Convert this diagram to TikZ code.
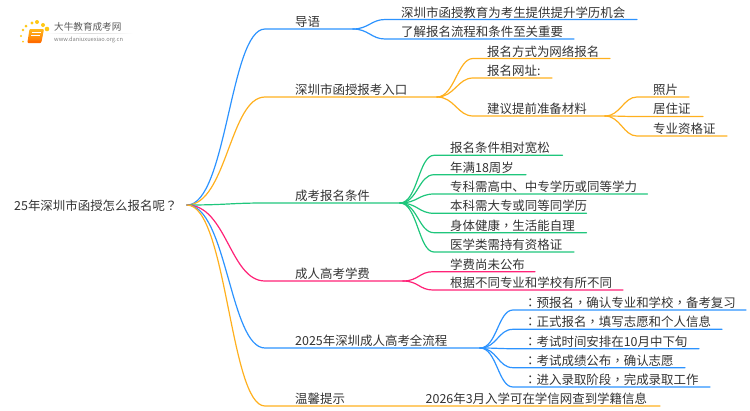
\documentclass[tikz,border=0pt]{standalone}
\usepackage{fontspec}
\setmainfont{Noto Sans CJK SC}
\newfontfamily\punct{Noto Sans CJK TC}
\usetikzlibrary{calc}
\definecolor{cblue}{HTML}{2C93FF}
\definecolor{corange}{HTML}{FFB01E}
\definecolor{cgreen}{HTML}{1FC67C}
\definecolor{cpink}{HTML}{FF2277}
\definecolor{ctext}{HTML}{333333}
\tikzset{
  txt/.style={font=\fontsize{12.45}{14}\selectfont,text=ctext,inner sep=0pt,anchor=base west},
  lead/.style={line width=1.2pt,line cap=round},
}
\newcommand{\pc}{{\punct ，}}
\newcommand{\pq}{{\punct ？}}
\newcommand{\pk}{{\punct ：}}
% \bra{colour}{from}{bend end}{line end}{bend span}
\newcommand{\bra}[5]{\draw[lead,#1] (#2) .. controls +(#5*0.51,0) and ($(#3)+(-#5*0.45,0)$) .. (#3) -- (#4);}
\begin{document}
\begin{tikzpicture}[x=1pt,y=-1pt]
\useasboundingbox (0,0) rectangle (750,410);
% logo
\shade[top color=corange!90!yellow,bottom color=orange!90!red,rounded corners=1pt] (29.5,29) -- (44,29) -- (41.5,42) -- (27.5,42) -- cycle;
\fill[orange!85!red,rounded corners=0.8pt] (27.5,40.5) -- (41.5,40.5) -- (41,43) -- (27.5,43) -- cycle;
\draw[white,line width=0.6pt] (31.5,32) -- (41,32) (31,35) -- (40,35);
\foreach \p/\r in {{37,22}/2.0,{32,23}/1.7,{43,25}/2.0,{47,29}/2.3,{26,26}/1.5,{23,30}/1.3,{21,36}/1.1,{23,41.5}/1.0}
  \fill[corange!70!yellow] (\p) circle (\r);
\shade[left color=white,right color=white,middle color=black!15] (45,33) rectangle (133,33.7);
\node[txt,font=\fontsize{9.6}{11}\selectfont,text=black!65] (logoa) at (54,30.5) {大牛教育成考网};
\node[txt,font=\fontsize{5.7}{7}\selectfont,text=black!50] (logob) at (54,41) {www.daniuxuexiao.org.cn};
% root
\node[txt] (root) at (14,210) {25年深圳市函授怎么报名呢\pq};
\coordinate (r) at (187,205);
% level 1
\coordinate (a0) at (265,29);  \coordinate (a1) at (353,29);
\coordinate (b0) at (265,97);  \coordinate (b1) at (437,97);
\coordinate (c0) at (265,203); \coordinate (c1) at (400,203);
\coordinate (d0) at (265,281); \coordinate (d1) at (403,281);
\coordinate (e0) at (265,348); \coordinate (e1) at (480,348);
\coordinate (f0) at (265,406); \coordinate (f1) at (660,406);
\bra{cblue}{r}{a0}{a1}{78}
\bra{corange}{r}{b0}{b1}{78}
\bra{cgreen}{r}{c0}{c1}{78}
\bra{cpink}{r}{d0}{d1}{78}
\bra{cblue}{r}{e0}{e1}{78}
\bra{corange}{r}{f0}{f1}{78}
\node[txt] (ta) at (295,26.5) {导语};
\node[txt] (tb) at (295,94.5) {深圳市函授报考入口};
\node[txt] (tc) at (295,200.5) {成考报名条件};
\node[txt] (td) at (295,278.5) {成人高考学费};
\node[txt] (te) at (295,345.5) {2025年深圳成人高考全流程};
\node[txt] (tf) at (295,403.5) {温馨提示};
% a children
\node[txt] (a1t) at (401,17) {深圳市函授教育为考生提供提升学历机会};
\node[txt] (a2t) at (401,36.5) {了解报名流程和条件至关重要};
\bra{cblue}{a1}{385,19.5}{637,19.5}{30}
\bra{cblue}{a1}{385,39}{574,39}{30}
% b children
\node[txt] (b1t) at (487,56) {报名方式为网络报名};
\node[txt] (b2t) at (487,75.5) {报名网址:};
\node[txt] (b3t) at (487,113.5) {建议提前准备材料};
\coordinate (b3) at (605,116);
\bra{corange}{b1}{473,58.5}{610,58.5}{34}
\bra{corange}{b1}{473,78}{552,78}{34}
\bra{corange}{b1}{473,116}{b3}{34}
\node[txt] (g1t) at (653,94.5) {照片};
\node[txt] (g2t) at (653,113.5) {居住证};
\node[txt] (g3t) at (653,133) {专业资格证};
\bra{corange}{b3}{637,97}{689,97}{30}
\bra{corange}{b3}{637,116.5}{703,116.5}{30}
\bra{corange}{b3}{637,136}{727,136}{30}
% c children
\node[txt] (c1t) at (450,152.5) {报名条件相对宽松};
\node[txt] (c2t) at (450,172) {年满18周岁};
\node[txt] (c3t) at (450,191.5) {专科需高中、中专学历或同等学力};
\node[txt] (c4t) at (450,210.5) {本科需大专或同等同学历};
\node[txt] (c5t) at (450,230) {身体健康\pc 生活能自理};
\node[txt] (c6t) at (450,249.5) {医学类需持有资格证};
\bra{cgreen}{c1}{434,155.3}{562.5,155.3}{34}
\bra{cgreen}{c1}{434,174.7}{526,174.7}{34}
\bra{cgreen}{c1}{434,194}{647.5,194}{34}
\bra{cgreen}{c1}{434,213.3}{586.5,213.3}{34}
\bra{cgreen}{c1}{434,232.7}{586.5,232.7}{34}
\bra{cgreen}{c1}{434,252}{574,252}{34}
% d children
\node[txt] (d1t) at (450,269) {学费尚未公布};
\node[txt] (d2t) at (450,287.5) {根据不同专业和学校有所不同};
\bra{cpink}{d1}{433,271.7}{535,271.7}{30}
\bra{cpink}{d1}{433,290}{623,290}{30}
% e children
\node[txt] (e1t) at (524,307.5) {\pk 预报名\pc 确认专业和学校\pc 备考复习};
\node[txt] (e2t) at (524,326.5) {\pk 正式报名\pc 填写志愿和个人信息};
\node[txt] (e3t) at (524,346) {\pk 考试时间安排在10月中下旬};
\node[txt] (e4t) at (524,365) {\pk 考试成绩公布\pc 确认志愿};
\node[txt] (e5t) at (524,384.5) {\pk 进入录取阶段\pc 完成录取工作};
\bra{cblue}{e1}{513,310}{746,310}{33}
\bra{cblue}{e1}{513,329.3}{722,329.3}{33}
\bra{cblue}{e1}{513,348.7}{699,348.7}{33}
\bra{cblue}{e1}{513,367.7}{685,367.7}{33}
\bra{cblue}{e1}{513,387}{710,387}{33}
% f child
\node[txt] (f1t) at (425.5,403.5) {2026年3月入学可在学信网查到学籍信息};
\end{tikzpicture}
\end{document}
